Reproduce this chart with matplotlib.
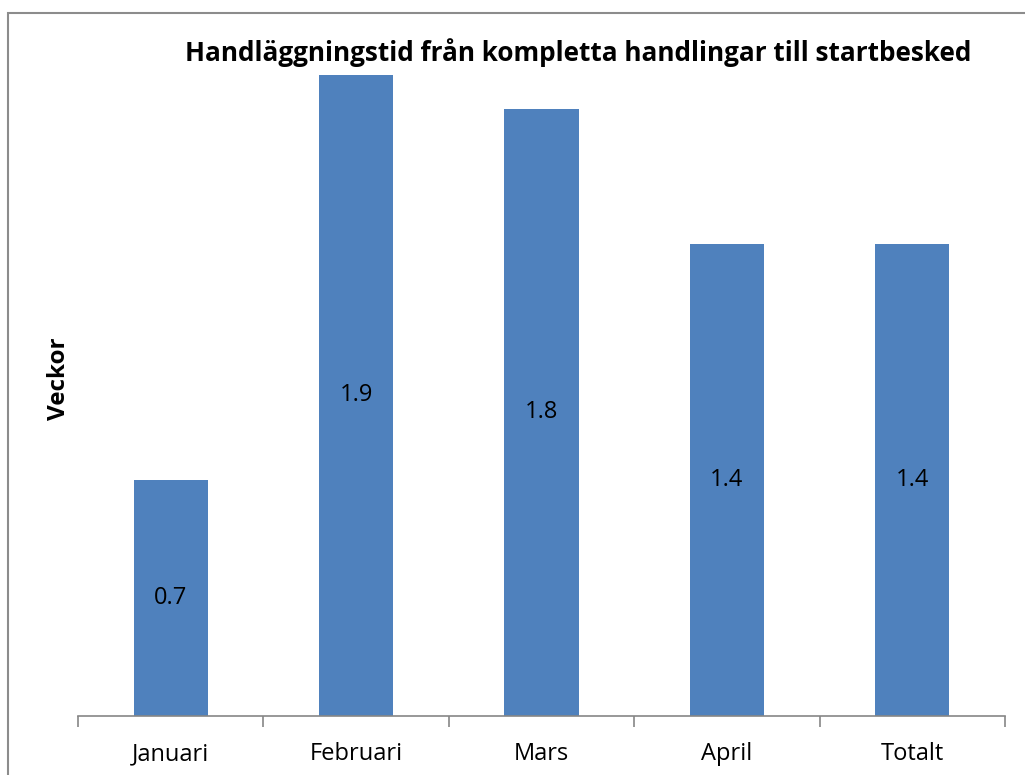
import matplotlib.pyplot as plt
from matplotlib.patches import Rectangle

months = ["Januari", "Februari", "Mars", "April", "Totalt"]
weeks = [0.7, 1.9, 1.8, 1.4, 1.4]
value_labels = ["0.7", "1.9", "1.8", "1.4", "1.4"]

plt.rcParams['font.family'] = ['Open Sans', 'DejaVu Sans']

fig = plt.figure(figsize=(10.25, 7.75), dpi=100)
ax = fig.add_axes([78/1025, 1-715.5/775, 927/1025, 640.5/775])

x = list(range(len(months)))
bars = ax.bar(x, weeks, width=0.4, color='#4F81BD')
for b, lab in zip(bars, value_labels):
    ax.text(b.get_x()+b.get_width()/2, b.get_height()/2, lab,
            ha='center', va='center', fontsize=17, color='black')

ax.set_xlim(-0.5, len(months)-0.5)
ax.set_ylim(0, 1.9)
ax.set_xticks([i-0.5 for i in range(len(months)+1)])
ax.set_xticklabels([])
ax.set_xticks(x, minor=True)
ax.set_xticklabels(months, minor=True, fontsize=17)
ax.tick_params(axis='x', which='major', length=8, color='#868686', width=1.2)
ax.tick_params(axis='x', which='minor', length=0, pad=19)
ax.set_yticks([])
for s in ['top', 'right', 'left']:
    ax.spines[s].set_visible(False)
ax.spines['bottom'].set_color('#868686')
ax.spines['bottom'].set_linewidth(1.2)

fig.text(578/1025, 1-53/775, "Handläggningstid från kompletta handlingar till startbesked",
         ha='center', va='center', fontsize=18.8, fontweight='bold')
fig.text(59/1025, 1-379/775, "Veckor", rotation=90, ha='center', va='center',
         fontsize=17.5, fontweight='bold')

fig.add_artist(Rectangle((8/1025, -0.1), 1.2, 1.1-13/775, transform=fig.transFigure,
                         fill=False, edgecolor='#8c8c8c', linewidth=1.5))

fig.savefig("out.png", dpi=100)
